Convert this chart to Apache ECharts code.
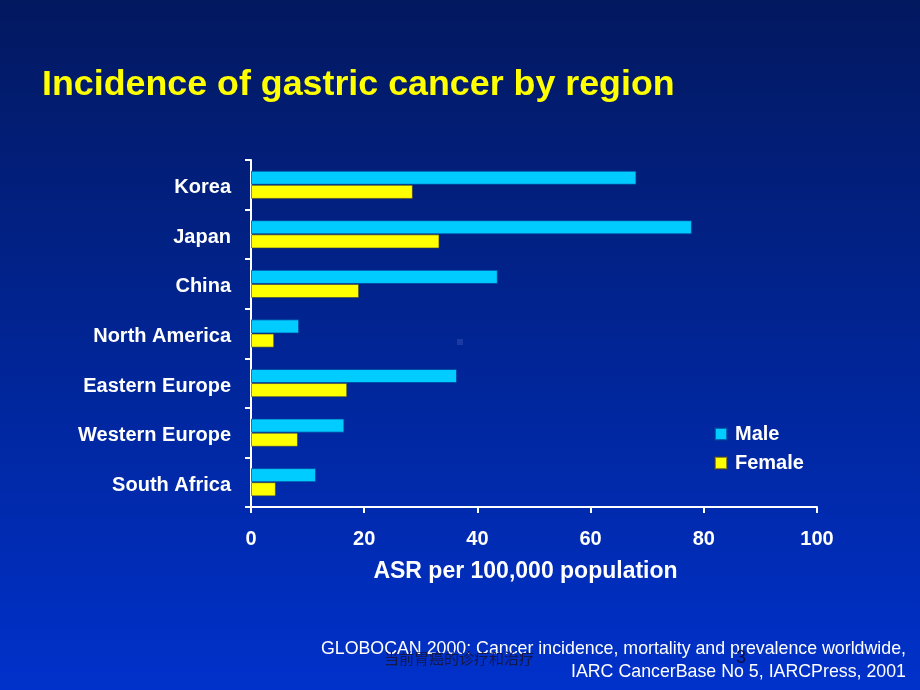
<!DOCTYPE html>
<html>
<head>
<meta charset="utf-8">
<script src="https://cdn.jsdelivr.net/npm/echarts@6/dist/echarts.min.js"></script>
<style>
    html, body { margin: 0; padding: 0; }
    #chart { width: 920px; height: 690px; }
</style>
</head>
<body>
<div id="chart"></div>
<script>
// === DATA ===
const regions = ["Korea", "Japan", "China", "North America", "Eastern Europe", "Western Europe", "South Africa"];
const maleAsr = [68.1, 77.9, 43.6, 8.5, 36.4, 16.5, 11.5];
const femaleAsr = [28.6, 33.3, 19.1, 4.1, 17.0, 8.3, 4.4];
const xTicks = [0, 20, 40, 60, 80, 100];
const footerLines = [
    "GLOBOCAN 2000: Cancer incidence, mortality and prevalence worldwide,",
    "IARC CancerBase No 5, IARCPress, 2001",
];

const FONT = "'Liberation Sans', Arial, Helvetica, sans-serif";
const CJK = "'Noto Sans CJK SC', sans-serif";

const chart = echarts.init(document.getElementById("chart"));

const option = {
    animation: false,
    backgroundColor: {
        type: "linear",
        x: 0, y: 0, x2: 0, y2: 1,
        colorStops: [
            { offset: 0, color: "#02185f" },
            { offset: 1, color: "#0031ca" },
        ],
    },
    title: {
        text: "Incidence of gastric cancer by region",
        left: 37,
        top: 62,
        textStyle: { color: "#ffff00", fontSize: 35.8, fontWeight: "bold", fontFamily: FONT },
    },
    legend: {
        orient: "vertical",
        left: 714,
        top: 424,
        padding: 0,
        itemWidth: 12,
        itemHeight: 12,
        itemGap: 9,
        icon: "rect",
        textStyle: { color: "#ffffff", fontSize: 20, fontWeight: "bold", fontFamily: FONT, padding: [0, 0, 0, 3] },
        data: ["Male", "Female"],
    },
    grid: { left: 251, right: 103, top: 160, bottom: 183 },
    xAxis: {
        type: "value",
        min: xTicks[0],
        max: xTicks[xTicks.length - 1],
        interval: 20,
        name: "ASR per 100,000 population",
        nameLocation: "middle",
        nameGap: 53,
        nameTextStyle: { color: "#ffffff", fontSize: 23, fontWeight: "bold", fontFamily: FONT, padding: [0, 17, 0, 0] },
        axisLine: { show: true, lineStyle: { color: "#ffffff", width: 2 } },
        axisTick: { show: true, length: 6, lineStyle: { color: "#ffffff", width: 2 } },
        axisLabel: { color: "#ffffff", fontSize: 20, fontWeight: "bold", fontFamily: FONT, margin: 22 },
        splitLine: { show: false },
    },
    yAxis: {
        type: "category",
        inverse: true,
        data: regions,
        axisLine: { show: true, lineStyle: { color: "#ffffff", width: 2 } },
        axisTick: { show: true, length: 6, lineStyle: { color: "#ffffff", width: 2 } },
        axisLabel: {
            color: "#ffffff",
            fontSize: 20,
            fontWeight: "bold",
            fontFamily: FONT,
            margin: 20,
            verticalAlign: "top",
            lineHeight: 6,
        },
    },
    series: [
        {
            name: "Male",
            type: "bar",
            data: maleAsr,
            barGap: "0%",
            barCategoryGap: "43%",
            itemStyle: { color: "#00ccff", borderColor: "rgba(0,60,150,0.7)", borderWidth: 1 },
        },
        {
            name: "Female",
            type: "bar",
            data: femaleAsr,
            barGap: "0%",
            barCategoryGap: "43%",
            itemStyle: { color: "#ffff00", borderColor: "rgba(60,60,60,0.6)", borderWidth: 1 },
        },
    ],
    graphic: [
        // small stray mark on the slide
        { type: "rect", left: 457, top: 339, shape: { width: 6, height: 6 }, style: { fill: "#1b3aa3" } },
        {
            type: "text",
            right: 14,
            top: 640,
            style: { text: footerLines[0], fill: "#ffffff", font: "17.8px " + FONT },
        },
        {
            type: "text",
            right: 14,
            top: 663,
            style: { text: footerLines[1], fill: "#ffffff", font: "17.8px " + FONT },
        },
        {
            type: "text",
            left: 384,
            top: 651,
            z: 10,
            style: { text: "当前胃癌的诊疗和治疗", fill: "#14184a", font: "15px " + CJK },
        },
        {
            type: "text",
            left: 736,
            top: 649,
            z: 10,
            style: { text: "3", fill: "#0d1040", font: "18px " + FONT },
        },
    ],
};

chart.setOption(option);
</script>
</body>
</html>
